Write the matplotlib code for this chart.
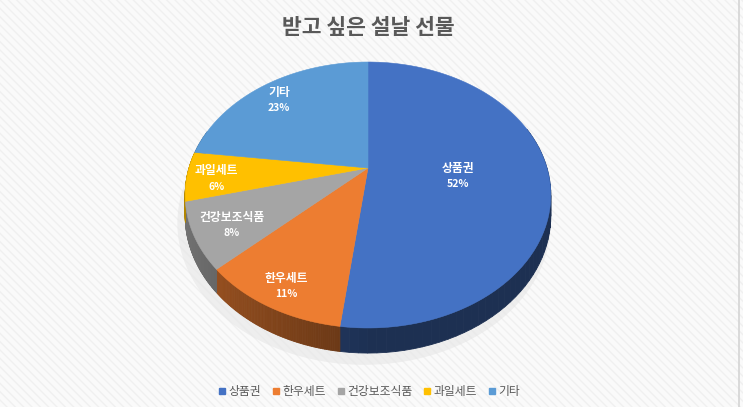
# 3D-looking pie of preferred Lunar New Year gifts
import numpy as np
import matplotlib
matplotlib.use("Agg")
import matplotlib.pyplot as plt
from matplotlib.patches import Polygon, Rectangle
from matplotlib.lines import Line2D

plt.rcParams['font.family'] = ['Noto Sans CJK KR', 'DejaVu Sans']

title = "받고 싶은 설날 선물"
labels = ["상품권", "한우세트", "건강보조식품", "과일세트", "기타"]
shares = [52, 11, 8, 6, 23]
colors = ["#4472C4", "#ED7D31", "#A5A5A5", "#FFC000", "#5B9BD5"]

# layout of the tilted pie (pixel units)
CX, CY = 368, 168
A, B = 127.5, 179
P = 0.203
H = 20
label_r = [0.5, 0.85, 0.8, 0.84, 0.85]


def proj(X, Z, drop=0.0):
    s = 1.0 / (1.0 - P * Z)
    return CX + B * X * s, CY + A * Z * s + drop * s


def shade(color, f):
    rgb = np.array(matplotlib.colors.to_rgb(color))
    return tuple(rgb * f)


fig = plt.figure(figsize=(7.43, 4.07), dpi=100)
fig.patch.set_facecolor("#f9f9f9")
ax = fig.add_axes([0, 0, 1, 1])
ax.set_xlim(0, 743)
ax.set_ylim(407, 0)
ax.axis("off")

# striped background
ax.add_patch(Rectangle((0, 0), 743, 407, facecolor="#fafafa", edgecolor="#f0f0f0",
                       hatch="\\\\\\\\", linewidth=0, zorder=0))
ax.plot([739, 739], [0, 407], color="#d4d4d4", lw=1.2, zorder=1)

total = float(sum(shares))
bounds = np.concatenate([[0], np.cumsum(shares)]) / total * 360.0

# soft shadow under the pie
ts = np.radians(np.linspace(0, 360, 200))
sx, sy = proj(np.sin(ts) * 1.02, -np.cos(ts) * 1.02, H + 6)
ax.add_patch(Polygon(np.column_stack([sx - 4, sy]), closed=True, facecolor="#e6e6e6",
                     edgecolor="none", alpha=0.6, zorder=1))

# sides
for i, c in enumerate(colors):
    t = np.radians(np.linspace(bounds[i], bounds[i + 1], 80))
    for a0, a1 in zip(t[:-1], t[1:]):
        X0, Z0, X1, Z1 = np.sin(a0), -np.cos(a0), np.sin(a1), -np.cos(a1)
        if max(Z0, Z1) < -0.3:
            continue
        p0, p1 = proj(X0, Z0), proj(X1, Z1)
        q1, q0 = proj(X1, Z1, H), proj(X0, Z0, H)
        xm = 0.5 * (X0 + X1)
        f = 0.42 + 0.28 * max(0.0, -xm)
        col = shade(c, f)
        ax.add_patch(Polygon([p0, p1, q1, q0], closed=True, facecolor=col,
                             edgecolor=col, linewidth=0.6, zorder=2))

# top faces
for i, c in enumerate(colors):
    t = np.radians(np.linspace(bounds[i], bounds[i + 1], 120))
    xs, ys = proj(np.sin(t), -np.cos(t))
    pts = np.vstack([[CX, CY], np.column_stack([xs, ys])])
    ax.add_patch(Polygon(pts, closed=True, facecolor=c, edgecolor=c,
                         linewidth=0.4, zorder=3))

# data labels
for i, lab in enumerate(labels):
    mid = np.radians(0.5 * (bounds[i] + bounds[i + 1]))
    r = label_r[i]
    lx, ly = proj(r * np.sin(mid), -r * np.cos(mid))
    ax.text(lx, ly - 4, lab, color="white", fontsize=8.5, fontweight="bold",
            ha="center", va="center", zorder=5)
    ax.text(lx, ly + 12, f"{shares[i]}%", color="white", fontsize=7.5, fontweight="bold",
            ha="center", va="center", zorder=5)

ax.text(368, 27, title, fontsize=15.5, fontweight="bold", color="#595959",
        ha="center", va="center", zorder=5)

handles = [Line2D([], [], marker="s", linestyle="none", markersize=5,
                  markerfacecolor=c, markeredgecolor=c) for c in colors]
fig.legend(handles, labels, loc="center", bbox_to_anchor=(0.497, 0.037), ncol=5,
           frameon=False, fontsize=8.5, handlelength=0.7, handletextpad=0.2,
           columnspacing=0.9, labelcolor="#595959")

fig.savefig("out.png", dpi=100, facecolor=fig.get_facecolor())
